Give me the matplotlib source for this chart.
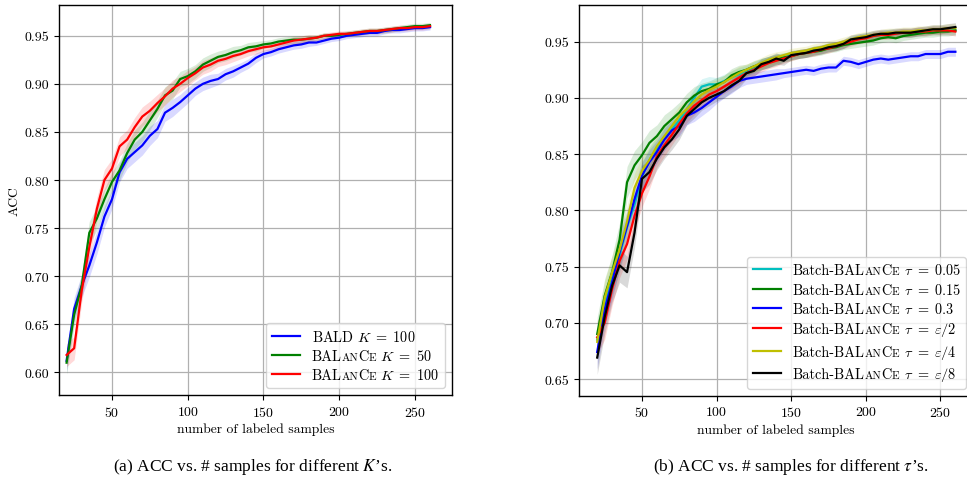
import matplotlib
matplotlib.use("Agg")
import matplotlib.pyplot as plt
from matplotlib.offsetbox import TextArea, HPacker
import numpy as np

plt.rcParams['font.family'] = ['cmr10', 'DejaVu Serif']
plt.rcParams['mathtext.fontset'] = 'cm'
plt.rcParams['axes.formatter.use_mathtext'] = True
plt.rcParams['axes.unicode_minus'] = False

# ---------------- data ----------------
n_labeled = list(range(20, 261, 5))

# left panel: different K
acc_bald_k100 = [0.612, 0.666, 0.690, 0.711, 0.735, 0.762, 0.780, 0.808, 0.822, 0.829,
                 0.836, 0.846, 0.853, 0.870, 0.875, 0.881, 0.888, 0.895, 0.900, 0.903,
                 0.905, 0.910, 0.913, 0.917, 0.921, 0.927, 0.931, 0.933, 0.936, 0.938,
                 0.940, 0.941, 0.943, 0.943, 0.945, 0.947, 0.948, 0.950, 0.951, 0.952,
                 0.953, 0.953, 0.955, 0.956, 0.956, 0.957, 0.958, 0.958, 0.959]
acc_balance_k50 = [0.610, 0.660, 0.690, 0.745, 0.760, 0.780, 0.798, 0.810, 0.828, 0.842,
                   0.850, 0.862, 0.874, 0.888, 0.893, 0.905, 0.908, 0.913, 0.920, 0.924,
                   0.928, 0.930, 0.933, 0.935, 0.938, 0.939, 0.941, 0.942, 0.944, 0.945,
                   0.946, 0.946, 0.947, 0.948, 0.950, 0.950, 0.951, 0.952, 0.953, 0.954,
                   0.955, 0.955, 0.956, 0.957, 0.958, 0.959, 0.960, 0.960, 0.961]
acc_balance_k100 = [0.618, 0.625, 0.685, 0.730, 0.770, 0.800, 0.812, 0.835, 0.842, 0.855,
                    0.866, 0.872, 0.880, 0.887, 0.895, 0.900, 0.906, 0.911, 0.917, 0.920,
                    0.924, 0.926, 0.929, 0.931, 0.934, 0.936, 0.938, 0.939, 0.941, 0.943,
                    0.945, 0.946, 0.947, 0.948, 0.950, 0.951, 0.952, 0.952, 0.953, 0.954,
                    0.955, 0.955, 0.956, 0.957, 0.958, 0.958, 0.959, 0.959, 0.960]
spread_left = [0.012, 0.012, 0.012, 0.012, 0.012, 0.011, 0.010, 0.010, 0.010, 0.010,
               0.010, 0.010, 0.009, 0.009, 0.009, 0.008, 0.008, 0.007, 0.007, 0.007,
               0.006, 0.006, 0.006, 0.005, 0.005, 0.005, 0.004, 0.004, 0.004, 0.004,
               0.004, 0.004, 0.004, 0.003, 0.003, 0.003, 0.003, 0.003, 0.003, 0.003,
               0.003, 0.003, 0.003, 0.003, 0.003, 0.003, 0.003, 0.003, 0.003]

# right panel: different tau
acc_tau_005 = [0.685, 0.715, 0.740, 0.760, 0.785, 0.805, 0.830, 0.845, 0.855, 0.865,
               0.872, 0.880, 0.890, 0.900, 0.910, 0.912, 0.912, 0.915, 0.918, 0.921,
               0.924, 0.927, 0.930, 0.932, 0.934, 0.936, 0.938, 0.939, 0.940, 0.942,
               0.943, 0.945, 0.946, 0.948, 0.951, 0.953, 0.954, 0.955, 0.956, 0.957,
               0.957, 0.958, 0.958, 0.959, 0.959, 0.960, 0.960, 0.960, 0.960]
acc_tau_015 = [0.690, 0.724, 0.745, 0.774, 0.825, 0.840, 0.849, 0.860, 0.866, 0.875,
               0.881, 0.887, 0.896, 0.902, 0.906, 0.908, 0.912, 0.914, 0.920, 0.923,
               0.925, 0.928, 0.930, 0.932, 0.934, 0.936, 0.937, 0.939, 0.940, 0.941,
               0.942, 0.944, 0.945, 0.947, 0.948, 0.949, 0.950, 0.951, 0.953, 0.954,
               0.953, 0.955, 0.956, 0.957, 0.958, 0.958, 0.959, 0.959, 0.960]
acc_tau_03 = [0.674, 0.712, 0.736, 0.763, 0.786, 0.810, 0.831, 0.843, 0.852, 0.863,
              0.871, 0.875, 0.884, 0.887, 0.891, 0.896, 0.901, 0.906, 0.910, 0.915,
              0.917, 0.918, 0.919, 0.920, 0.921, 0.922, 0.923, 0.924, 0.925, 0.924,
              0.926, 0.927, 0.927, 0.933, 0.932, 0.930, 0.932, 0.934, 0.935, 0.934,
              0.935, 0.936, 0.937, 0.937, 0.939, 0.939, 0.939, 0.941, 0.941]
acc_tau_eps2 = [0.687, 0.700, 0.730, 0.755, 0.770, 0.795, 0.815, 0.830, 0.848, 0.858,
                0.867, 0.877, 0.886, 0.893, 0.898, 0.903, 0.906, 0.910, 0.914, 0.918,
                0.922, 0.925, 0.928, 0.931, 0.933, 0.935, 0.937, 0.939, 0.940, 0.941,
                0.943, 0.944, 0.946, 0.948, 0.950, 0.952, 0.953, 0.955, 0.956, 0.956,
                0.957, 0.958, 0.958, 0.959, 0.959, 0.960, 0.960, 0.960, 0.959]
acc_tau_eps4 = [0.683, 0.722, 0.745, 0.765, 0.790, 0.820, 0.835, 0.845, 0.857, 0.866,
                0.875, 0.884, 0.890, 0.897, 0.903, 0.907, 0.910, 0.914, 0.918, 0.922,
                0.925, 0.928, 0.931, 0.934, 0.936, 0.938, 0.940, 0.941, 0.942, 0.944,
                0.945, 0.947, 0.948, 0.950, 0.952, 0.954, 0.955, 0.956, 0.957, 0.958,
                0.958, 0.959, 0.959, 0.960, 0.960, 0.961, 0.961, 0.962, 0.962]
acc_tau_eps8 = [0.669, 0.705, 0.733, 0.751, 0.745, 0.780, 0.828, 0.834, 0.846, 0.856,
                0.863, 0.872, 0.884, 0.890, 0.896, 0.900, 0.903, 0.906, 0.911, 0.915,
                0.922, 0.924, 0.930, 0.932, 0.935, 0.933, 0.938, 0.939, 0.940, 0.942,
                0.943, 0.945, 0.946, 0.948, 0.952, 0.953, 0.954, 0.956, 0.957, 0.957,
                0.958, 0.958, 0.958, 0.959, 0.960, 0.961, 0.961, 0.962, 0.963]
spread_right = [0.015, 0.015, 0.015, 0.015, 0.014, 0.013, 0.012, 0.011, 0.010, 0.010,
                0.009, 0.009, 0.008, 0.008, 0.007, 0.007, 0.006, 0.006, 0.006, 0.006,
                0.005, 0.005, 0.005, 0.005, 0.005, 0.004, 0.004, 0.004, 0.004, 0.004,
                0.004, 0.004, 0.004, 0.004, 0.004, 0.004, 0.004, 0.004, 0.004, 0.004,
                0.004, 0.004, 0.004, 0.004, 0.004, 0.004, 0.004, 0.004, 0.004]

# legend labels: (prefix, small-caps method name?, math suffix)
left_prefix = ["BALD", "BAL", "BAL"]
left_smallcaps = [False, True, True]
left_math = [r"$K\;=\;100$", r"$K\;=\;50$", r"$K\;=\;100$"]
right_prefix = ["Batch-BAL"] * 6
right_smallcaps = [True] * 6
right_math = [r"$\tau\;=\;0.05$", r"$\tau\;=\;0.15$", r"$\tau\;=\;0.3$",
              r"$\tau\;=\;\varepsilon/2$", r"$\tau\;=\;\varepsilon/4$",
              r"$\tau\;=\;\varepsilon/8$"]

left_series = [acc_bald_k100, acc_balance_k50, acc_balance_k100]
right_series = [acc_tau_005, acc_tau_015, acc_tau_03, acc_tau_eps2, acc_tau_eps4, acc_tau_eps8]
left_colors = ['b', 'g', 'r']
right_colors = ['c', 'g', 'b', 'r', 'y', 'k']

FS = 10.3
SC_RATIO = 0.78


def label_box(prefix, sc, math):
    if sc:
        parts = [(prefix, FS), ("AN", FS * SC_RATIO), ("C", FS), ("E", FS * SC_RATIO),
                 (" " + math, FS)]
    else:
        parts = [(prefix + " " + math, FS)]
    kids = [TextArea(t, textprops=dict(fontsize=s)) for t, s in parts]
    return HPacker(children=kids, align='baseline', pad=0, sep=0)


def plain_label(prefix, sc, math):
    return prefix + ("ANCE" if sc else "") + " " + math


# ---------------- figure ----------------
fig = plt.figure(figsize=(9.67, 4.85), dpi=100)
axL = fig.add_axes([59 / 967, 89 / 485, 393 / 967, 390 / 485])
axR = fig.add_axes([579.3 / 967, 88.3 / 485, 394 / 967, 390.7 / 485])

x = np.array(n_labeled)


def draw(ax, series, prefixes, scs, maths, colors, spread):
    sp = np.array(spread)
    for ys, p, s, m, c in zip(series, prefixes, scs, maths, colors):
        y = np.array(ys)
        ax.fill_between(x, y - sp, y + sp, color=c, alpha=0.15, lw=0)
        ax.plot(x, y, color=c, lw=1.6, label=plain_label(p, s, m))
    ax.grid(True, color='#b0b0b0', lw=0.9)
    ax.set_axisbelow(True)
    ax.tick_params(labelsize=10)
    ax.set_xticks([50, 100, 150, 200, 250])
    for sp_ in ax.spines.values():
        sp_.set_linewidth(1.0)
    ax.set_xlabel("number of labeled samples", fontsize=9.8, labelpad=3)
    leg = ax.legend(loc='lower right', fontsize=FS, handlelength=2.0,
                    labelspacing=0.3, borderpad=0.4, framealpha=0.8)
    # replace label texts by boxes with small-caps letters
    column = leg._legend_handle_box.get_children()[0]
    for entry, p, s, m in zip(column.get_children(), prefixes, scs, maths):
        entry.get_children()[1] = label_box(p, s, m)
    leg._legend_box.set_figure(fig)
    return leg


draw(axL, left_series, left_prefix, left_smallcaps, left_math, left_colors, spread_left)
axL.set_xlim(15, 274.5)
axL.set_ylim(0.5764, 0.982)
axL.set_yticks([0.60, 0.65, 0.70, 0.75, 0.80, 0.85, 0.90, 0.95])
axL.set_yticklabels(["0.60", "0.65", "0.70", "0.75", "0.80", "0.85", "0.90", "0.95"])
axL.set_ylabel("ACC", fontsize=9.8, labelpad=3)

draw(axR, right_series, right_prefix, right_smallcaps, right_math, right_colors, spread_right)
axR.set_xlim(8, 272)
axR.set_ylim(0.6351, 0.9826)
axR.set_yticks([0.65, 0.70, 0.75, 0.80, 0.85, 0.90, 0.95])
axR.set_yticklabels(["0.65", "0.70", "0.75", "0.80", "0.85", "0.90", "0.95"])

fig.text(253 / 967, 1 - 467 / 485, "(a) ACC vs. # samples for different $K$\u2019s.",
         ha='center', va='center', fontsize=12.5, family='Liberation Serif',
         math_fontfamily='stix')
fig.text(791 / 967, 1 - 467 / 485, "(b) ACC vs. # samples for different $\\tau$\u2019s.",
         ha='center', va='center', fontsize=12.5, family='Liberation Serif',
         math_fontfamily='stix')

fig.savefig("out.png", dpi=100)
